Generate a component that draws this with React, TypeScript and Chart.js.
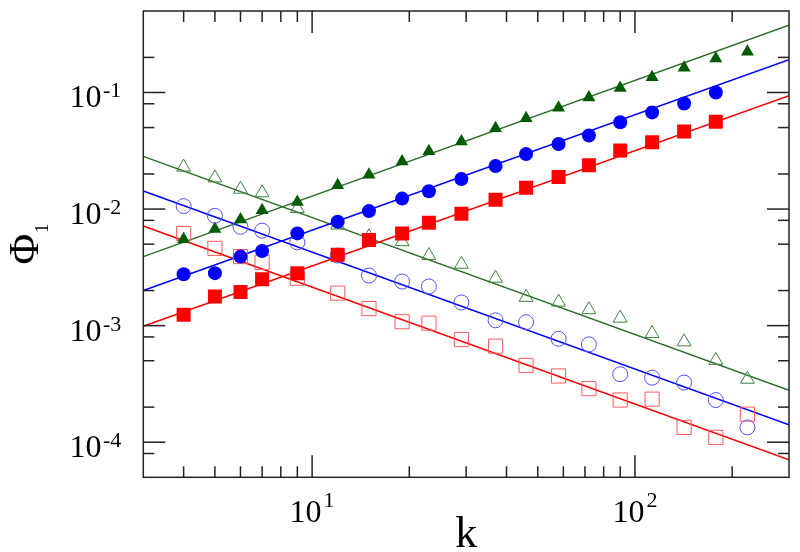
import { useEffect, useRef } from 'react';
import { Chart, registerables } from 'chart.js';

Chart.register(...registerables);

// ---- data ----
const K = [4, 5, 6, 7, 9, 12, 15, 19, 23, 29, 37, 46, 58, 72, 90, 113, 142, 178, 223];

const filledTriangles = [5.52e-3, 6.74e-3, 8.13e-3, 9.78e-3, 1.15e-2, 1.6e-2, 1.97e-2, 2.56e-2, 3.14e-2, 3.8e-2, 4.93e-2, 6.0e-2, 7.4e-2, 9.06e-2, 0.109, 0.135, 0.163, 0.196, 0.224];
const filledCircles = [2.76e-3, 2.82e-3, 3.91e-3, 4.37e-3, 6.18e-3, 7.78e-3, 9.6e-3, 1.23e-2, 1.42e-2, 1.81e-2, 2.34e-2, 2.96e-2, 3.62e-2, 4.27e-2, 5.55e-2, 6.75e-2, 8.05e-2, 0.1];
const filledSquares = [1.24e-3, 1.78e-3, 1.94e-3, 2.5e-3, 2.82e-3, 4.05e-3, 5.43e-3, 6.18e-3, 7.62e-3, 9.1e-3, 1.2e-2, 1.52e-2, 1.88e-2, 2.38e-2, 3.18e-2, 3.74e-2, 4.62e-2, 5.62e-2];
const openTriangles = [2.29e-2, 1.85e-2, 1.48e-2, 1.38e-2, 1.01e-2, 7.29e-3, 5.79e-3, 5.25e-3, 3.99e-3, 3.36e-3, 2.55e-3, 1.75e-3, 1.59e-3, 1.37e-3, 1.16e-3, 8.57e-4, 7.26e-4, 5.04e-4, 3.47e-4];
const openCircles = [1.06e-2, 8.75e-3, 7.05e-3, 6.52e-3, 5.18e-3, 3.99e-3, 2.69e-3, 2.39e-3, 2.17e-3, 1.58e-3, 1.11e-3, 1.07e-3, 7.71e-4, 6.9e-4, 3.83e-4, 3.58e-4, 3.25e-4, 2.3e-4, 1.34e-4];
const openSquares = [6.18e-3, 4.6e-3, 3.91e-3, 3.49e-3, 2.55e-3, 1.9e-3, 1.4e-3, 1.08e-3, 1.05e-3, 7.6e-4, 6.67e-4, 4.56e-4, 3.7e-4, 2.88e-4, 2.3e-4, 2.34e-4, 1.34e-4, 1.1e-4, 1.74e-4];

const fitX = [3, 300];
const fitGreenUp = [3.91e-3, 0.378];
const fitBlueUp = [2.0e-3, 0.191];
const fitRedUp = [9.89e-4, 9.37e-2];
const fitGreenDown = [2.83e-2, 2.79e-4];
const fitBlueDown = [1.43e-2, 1.41e-4];
const fitRedDown = [7.16e-3, 7.06e-5];

const X_MIN = 3;
const X_MAX = 300;
const Y_MIN = 5e-5;
const Y_MAX = 0.5;

const xMajorTicks = [10, 100];
const xMajorExps = ['1', '2'];
const xMinorTicks = [4, 5, 6, 7, 8, 9, 20, 30, 40, 50, 60, 70, 80, 90, 200];
const yMajorTicks = [1e-4, 1e-3, 1e-2, 1e-1];
const yMajorExps = ['-4', '-3', '-2', '-1'];
const yMinorTicks = [8e-5, 2e-4, 5e-4, 8e-4, 2e-3, 5e-3, 8e-3, 2e-2, 5e-2, 8e-2, 2e-1];

const xTitle = 'k';
const yTitleMain = 'Φ';
const yTitleSub = '1';

const FONT = '"Liberation Serif", "Times New Roman", serif';

const pts = (xs: number[], ys: number[]) => ys.map((y, i) => ({ x: xs[i], y }));

const GREEN = '#005a00';
const GREEN_LINE = '#2a6e2a';
const BLUE = '#0000ff';
const RED = '#ff0000';

const axesPlugin = {
  id: 'axesPlugin',
  afterDraw(chart: any) {
    const { ctx, chartArea: a, scales } = chart;
    const xs = scales.x;
    const ys = scales.y;
    ctx.save();
    ctx.strokeStyle = '#222';
    ctx.lineWidth = 1.5;
    const seg = (x1: number, y1: number, x2: number, y2: number) => {
      ctx.beginPath();
      ctx.moveTo(x1, y1);
      ctx.lineTo(x2, y2);
      ctx.stroke();
    };
    const MAJ = 22;
    const MIN = 11;
    const xt = (v: number, len: number) => {
      const px = xs.getPixelForValue(v);
      seg(px, a.bottom, px, a.bottom - len);
      seg(px, a.top, px, a.top + len);
    };
    const yt = (v: number, len: number) => {
      const py = ys.getPixelForValue(v);
      seg(a.left, py, a.left + len, py);
      seg(a.right, py, a.right - len, py);
    };
    xMajorTicks.forEach((v) => xt(v, MAJ));
    xMinorTicks.forEach((v) => xt(v, MIN));
    yMajorTicks.forEach((v) => yt(v, MAJ));
    yMinorTicks.forEach((v) => yt(v, MIN));
    ctx.strokeRect(a.left, a.top, a.right - a.left, a.bottom - a.top);

    // tick labels
    ctx.fillStyle = '#000';
    ctx.textBaseline = 'alphabetic';
    const mainFont = `32px ${FONT}`;
    const supFont = `22px ${FONT}`;
    // y labels
    yMajorTicks.forEach((v, i) => {
      const py = ys.getPixelForValue(v);
      const right = a.left - 22;
      ctx.font = supFont;
      const ws = ctx.measureText(yMajorExps[i]).width;
      ctx.textAlign = 'left';
      ctx.fillText(yMajorExps[i], right - ws, py + 5);
      ctx.font = mainFont;
      ctx.textAlign = 'right';
      ctx.fillText('10', right - ws - 1.5, py + 15);
    });
    // x labels
    xMajorTicks.forEach((v, i) => {
      const px = xs.getPixelForValue(v);
      ctx.font = mainFont;
      const wm = ctx.measureText('10').width;
      ctx.font = supFont;
      const ws = ctx.measureText(xMajorExps[i]).width;
      const start = px - (wm + ws + 2) / 2;
      ctx.textAlign = 'left';
      ctx.font = mainFont;
      ctx.fillText('10', start, 522);
      ctx.font = supFont;
      ctx.fillText(xMajorExps[i], start + wm + 2, 507);
    });
    // axis titles
    ctx.font = `44px ${FONT}`;
    ctx.textAlign = 'center';
    ctx.fillText(xTitle, (a.left + a.right) / 2, 547);

    ctx.save();
    ctx.font = `42px ${FONT}`;
    const wPhi = ctx.measureText(yTitleMain).width;
    ctx.font = `18px ${FONT}`;
    const wSub = ctx.measureText(yTitleSub).width;
    const total = wPhi + wSub + 1;
    const cy = (a.top + a.bottom) / 2;
    ctx.translate(37.5, cy + total / 2);
    ctx.rotate(-Math.PI / 2);
    ctx.textAlign = 'left';
    ctx.font = `42px ${FONT}`;
    ctx.fillText(yTitleMain, 0, 0);
    ctx.font = `18px ${FONT}`;
    ctx.fillText(yTitleSub, wPhi + 1, 10);
    ctx.restore();

    ctx.restore();
  },
};

export default function App() {
  const ref = useRef<HTMLCanvasElement | null>(null);
  useEffect(() => {
    if (!ref.current) return;
    const lineDs = (ys: number[], color: string) => ({
      type: 'line' as const,
      data: pts(fitX, ys),
      borderColor: color,
      borderWidth: 1.5,
      pointRadius: 0,
      showLine: true,
      fill: false,
      order: 3,
    });
    const markDs = (ys: number[], style: string, r: number, color: string, filled: boolean) => ({
      type: 'scatter' as const,
      data: pts(K, ys),
      pointStyle: style,
      pointRadius: r,
      pointHoverRadius: r,
      backgroundColor: filled ? color : 'rgba(0,0,0,0)',
      borderColor: color,
      borderWidth: filled ? 0 : 1,
      showLine: false,
      order: filled ? 1 : 2,
    });
    const chart = new Chart(ref.current, {
      type: 'scatter',
      data: {
        datasets: [
          lineDs(fitGreenUp, GREEN_LINE),
          lineDs(fitBlueUp, BLUE),
          lineDs(fitRedUp, RED),
          lineDs(fitGreenDown, GREEN_LINE),
          lineDs(fitBlueDown, BLUE),
          lineDs(fitRedDown, RED),
          markDs(openTriangles, 'triangle', 8, '#3f7f3f', false),
          markDs(openCircles, 'circle', 7.5, '#5050ff', false),
          markDs(openSquares, 'rect', 10, '#ff5a5a', false),
          markDs(filledTriangles, 'triangle', 7.5, GREEN, true),
          markDs(filledCircles, 'circle', 7, BLUE, true),
          markDs(filledSquares, 'rect', 9.9, RED, true),
        ] as any,
      },
      options: {
        animation: false,
        responsive: false,
        events: [],
        layout: { padding: { left: 143.3, top: 8.3, right: 7.7, bottom: 74.7 } },
        plugins: { legend: { display: false }, tooltip: { enabled: false } },
        scales: {
          x: { type: 'logarithmic', min: X_MIN, max: X_MAX, display: false },
          y: { type: 'logarithmic', min: Y_MIN, max: Y_MAX, display: false },
        },
      },
      plugins: [axesPlugin],
    });
    return () => chart.destroy();
  }, []);
  return (
    <div style={{ position: 'absolute', left: 0, top: 0, width: 800, height: 552, background: '#fff' }}>
      <canvas ref={ref} width={800} height={552} style={{ display: 'block' }} />
    </div>
  );
}
